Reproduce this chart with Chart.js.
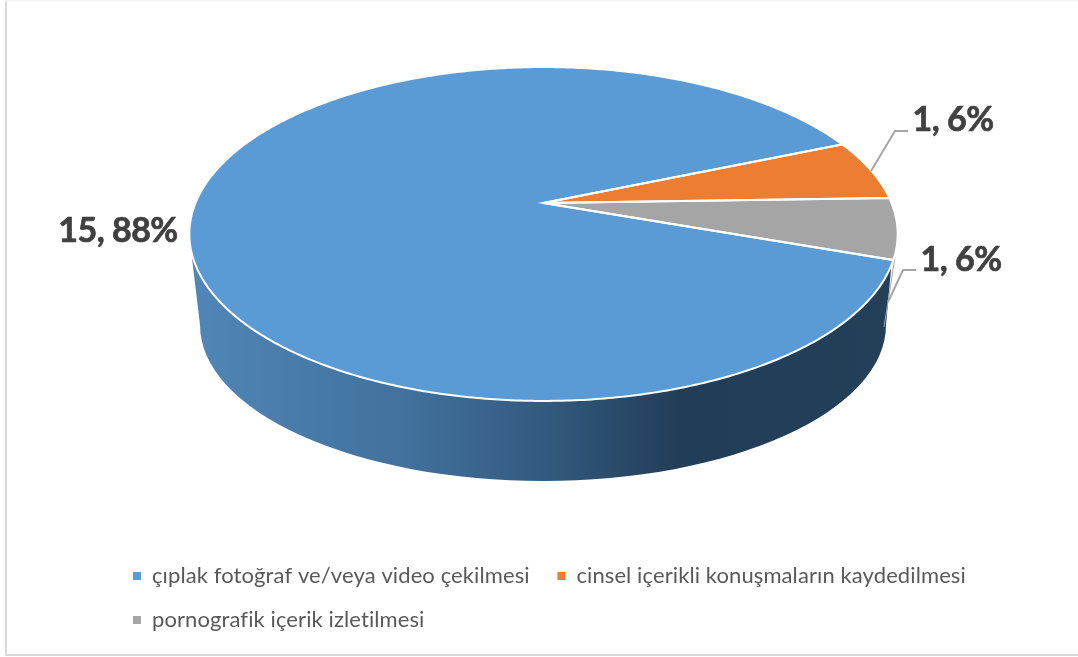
<!DOCTYPE html>
<html>
<head>
<meta charset="utf-8">
<title>Pie 3D</title>
<style>
  body { margin: 0; background: #fff; }
  #frame { position: absolute; left: 5px; top: 0; width: 1073px; height: 653px;
           border-left: 2px solid #d9d9d9; border-bottom: 2px solid #d9d9d9; border-top: 1px solid #f4f4f4; }
  canvas { position: absolute; left: 0; top: 0; }
</style>
<script src="https://cdn.jsdelivr.net/npm/chart.js@4/dist/chart.umd.min.js"></script>
</head>
<body>
<div id="frame"></div>
<canvas id="pie" width="1078" height="657"></canvas>
<script>
var categories = [
  "çıplak fotoğraf ve/veya video çekilmesi",
  "cinsel içerikli konuşmaların kaydedilmesi",
  "pornografik içerik izletilmesi"
];
var values = [15, 1, 1];
var colors = ["#5B9BD5", "#ED7D31", "#A5A5A5"];

// top face is a perspective view of a circle: apex sits above the ellipse centre
var face = { cx: 543.5, cy: 203, a: 348, b: 161.2, p: 0.1856 };
var base = { cx: 543, cy: 325, rx: 343, ry: 156 };
var labelSpots = [[118, 231], [953, 120], [961, 260]];
var leaders = [null, [[871, 171], [895, 131], [908, 131]], [[888, 302], [903, 270], [916, 270]]];

function project(ang) {
  var w = 1 - face.p * Math.sin(ang);
  return [face.cx + face.a * Math.cos(ang) / w, face.cy + face.b * Math.sin(ang) / w];
}

function traceSlice(ctx, start, end) {
  ctx.beginPath();
  ctx.moveTo(face.cx, face.cy);
  var steps = Math.max(2, Math.ceil((end - start) / 0.01));
  for (var i = 0; i <= steps; i++) {
    var pt = project(start + (end - start) * i / steps);
    ctx.lineTo(pt[0], pt[1]);
  }
  ctx.closePath();
}

function drawWall(ctx) {
  var grad = ctx.createLinearGradient(base.cx - base.rx, 0, base.cx + base.rx, 0);
  grad.addColorStop(0, "#5085B5");
  grad.addColorStop(0.3, "#41719C");
  grad.addColorStop(0.5, "#335A80");
  grad.addColorStop(0.7, "#223D57");
  grad.addColorStop(1, "#243F58");
  ctx.beginPath();
  ctx.moveTo(192, 258);
  ctx.lineTo(base.cx - base.rx, base.cy);
  ctx.ellipse(base.cx, base.cy, base.rx, base.ry, 0, Math.PI, 0, true);
  ctx.lineTo(892, 258);
  ctx.closePath();
  ctx.fillStyle = grad;
  ctx.fill();
  // thin edge on the right side of the wall
  ctx.beginPath();
  ctx.moveTo(895, 257);
  ctx.lineTo(884, 327);
  ctx.strokeStyle = "#A6A6A6";
  ctx.lineWidth = 1;
  ctx.stroke();
}

var pie3d = {
  id: "pie3d",
  beforeLayout: function (chart) {
    chart.ctx.letterSpacing = "0.1px";
  },
  beforeDatasetsDraw: function (chart) {
    var ctx = chart.ctx;
    var arcs = chart.getDatasetMeta(0).data;
    var total = values.reduce(function (s, v) { return s + v; }, 0);
    ctx.save();
    drawWall(ctx);
    arcs.forEach(function (arc, i) {
      traceSlice(ctx, arc.startAngle, arc.endAngle);
      ctx.fillStyle = colors[i];
      ctx.fill();
    });
    arcs.forEach(function (arc) {
      traceSlice(ctx, arc.startAngle, arc.endAngle);
      ctx.strokeStyle = "#fff";
      ctx.lineWidth = 2;
      ctx.stroke();
    });
    leaders.forEach(function (line) {
      if (!line) return;
      ctx.beginPath();
      ctx.moveTo(line[0][0], line[0][1]);
      ctx.lineTo(line[1][0], line[1][1]);
      ctx.lineTo(line[2][0], line[2][1]);
      ctx.strokeStyle = "#A6A6A6";
      ctx.lineWidth = 2;
      ctx.stroke();
    });
    ctx.letterSpacing = "-0.5px";
    ctx.fillStyle = "#404040";
    ctx.strokeStyle = "#404040";
    ctx.lineWidth = 0.7;
    ctx.font = "bold 34px Lato";
    ctx.textAlign = "center";
    ctx.textBaseline = "middle";
    values.forEach(function (v, i) {
      var txt = v + ", " + Math.round(v / total * 100) + "%";
      ctx.fillText(txt, labelSpots[i][0], labelSpots[i][1]);
      ctx.strokeText(txt, labelSpots[i][0], labelSpots[i][1]);
    });
    ctx.restore();
    return false;
  }
};

new Chart(document.getElementById("pie"), {
  type: "pie",
  data: {
    labels: categories,
    datasets: [{ data: values, backgroundColor: colors, borderWidth: 0 }]
  },
  options: {
    responsive: false,
    animation: false,
    rotation: 109.4,
    layout: { padding: { left: 111, right: 0, top: 60, bottom: 16 } },
    plugins: {
      tooltip: { enabled: false },
      legend: {
        position: "bottom",
        align: "start",
        labels: {
          boxWidth: 8,
          boxHeight: 8,
          padding: 22,
          color: "#595959",
          font: { family: "Lato", size: 22 },
          // trailing space widens the gap between the two items of the first row
          generateLabels: function (chart) {
            return Chart.overrides.pie.plugins.legend.labels.generateLabels(chart).map(function (item) {
              item.text = item.text + " ";
              return item;
            });
          }
        }
      }
    }
  },
  plugins: [pie3d]
});
</script>
</body>
</html>
